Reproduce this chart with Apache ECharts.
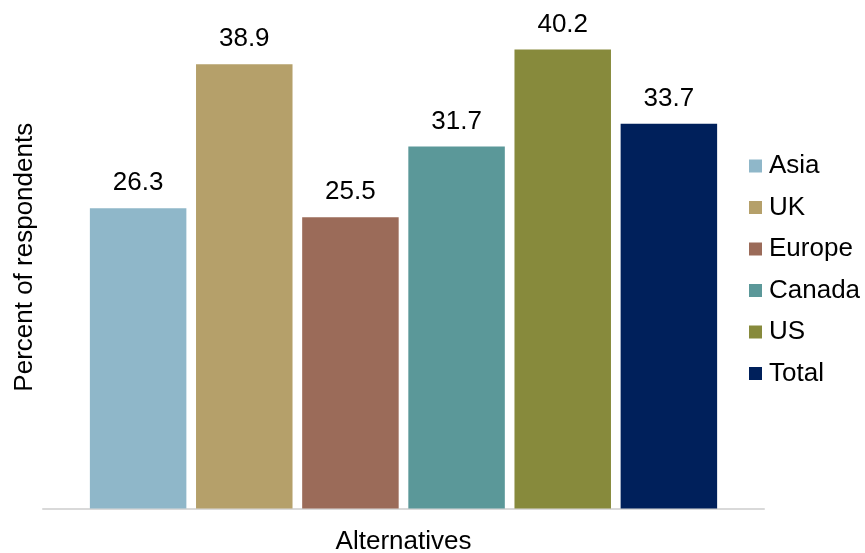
<!DOCTYPE html>
<html>
<head>
<meta charset="utf-8">
<script src="https://cdn.jsdelivr.net/npm/echarts@6/dist/echarts.min.js"></script>
<style>
  html, body { margin: 0; padding: 0; background: #ffffff; }
  #chart { width: 865px; height: 553px; }
</style>
</head>
<body>
<div id="chart"></div>
<script>
// Share of respondents by region for the "Alternatives" category
const categories = ['Alternatives'];
const regions = ['Asia', 'UK', 'Europe', 'Canada', 'US', 'Total'];
const values = [26.3, 38.9, 25.5, 31.7, 40.2, 33.7];
const colors = ['#8FB7C9', '#B5A06A', '#9B6B59', '#5B9899', '#878A3C', '#00205B'];

const FONT = 'Liberation Sans, Arial, sans-serif';
const FONT_SIZE = 26;

const series = regions.map((name, i) => ({
  name: name,
  type: 'bar',
  data: [values[i]],
  barWidth: 96.5,
  barGap: '10%',
  itemStyle: { color: colors[i] },
  label: {
    show: true,
    position: 'top',
    distance: 12,
    color: '#000000',
    fontSize: FONT_SIZE,
    fontFamily: FONT,
    formatter: p => p.value.toFixed(1)
  }
}));

const chart = echarts.init(document.getElementById('chart'), null, { renderer: 'canvas' });
chart.setOption({
  animation: false,
  backgroundColor: '#ffffff',
  grid: {
    left: 43, right: 101, top: 6, bottom: 44.5,
    containLabel: false,
    outerBoundsMode: 'none'
  },
  legend: {
    data: regions,
    orient: 'vertical',
    left: 749,
    top: 153,
    padding: 0,
    icon: 'rect',
    itemWidth: 13,
    itemHeight: 13,
    itemGap: 15.5,
    textStyle: { color: '#000000', fontSize: FONT_SIZE, fontFamily: FONT, padding: [0, 0, 0, 2] }
  },
  xAxis: {
    type: 'category',
    data: categories,
    name: 'Alternatives',
    nameLocation: 'middle',
    nameGap: 20,
    nameTextStyle: { color: '#000000', fontSize: FONT_SIZE, fontFamily: FONT },
    axisLine: { show: true, lineStyle: { color: '#D9D9D9', width: 2 } },
    axisTick: { show: false },
    axisLabel: { show: false }
  },
  yAxis: {
    type: 'value',
    min: 0,
    max: 44,
    name: 'Percent of respondents',
    nameLocation: 'middle',
    nameGap: 5,
    nameTextStyle: { color: '#000000', fontSize: FONT_SIZE, fontFamily: FONT },
    axisLine: { show: false },
    axisTick: { show: false },
    axisLabel: { show: false },
    splitLine: { show: false }
  },
  series: series
});
</script>
</body>
</html>
